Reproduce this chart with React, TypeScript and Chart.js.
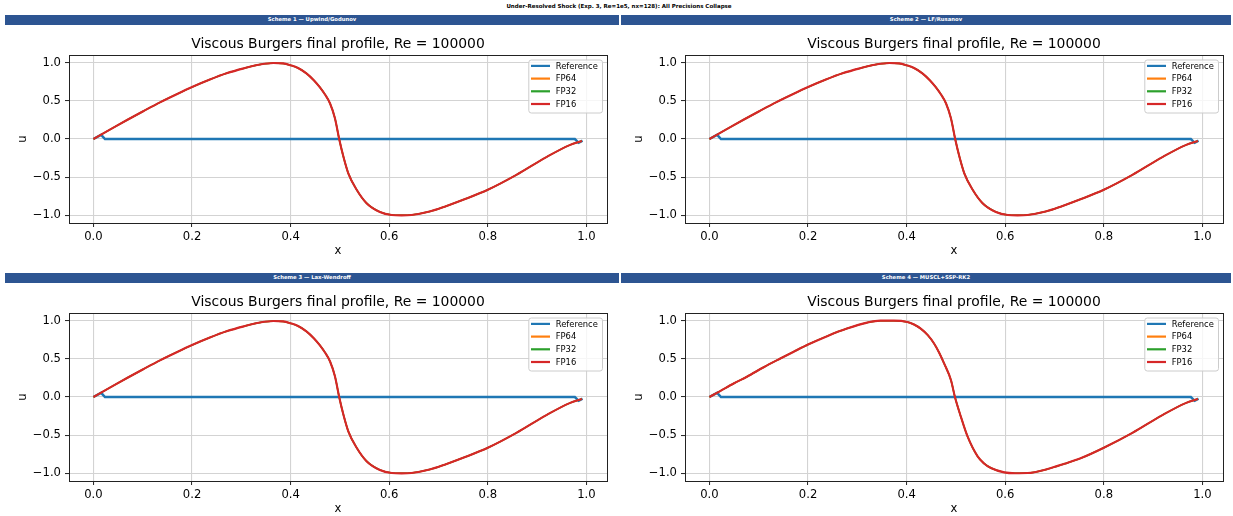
import React, { useEffect, useRef } from 'react';
import { Chart, registerables } from 'chart.js';

Chart.register(...registerables);

const FONT = '"DejaVu Sans", "Liberation Sans", sans-serif';

const SUPTITLE = 'Under-Resolved Shock (Exp. 3, Re=1e5, nx=128): All Precisions Collapse';
const PANEL_HEADERS = [
  'Scheme 1 — Upwind/Godunov',
  'Scheme 2 — LF/Rusanov',
  'Scheme 3 — Lax-Wendroff',
  'Scheme 4 — MUSCL+SSP-RK2',
];
const PANEL_TITLE = 'Viscous Burgers final profile, Re = 100000';
const SERIES_NAMES = ['Reference', 'FP64', 'FP32', 'FP16'];
const SERIES_COLORS = ['#1f77b4', '#ff7f0e', '#2ca02c', '#d62728'];
const X_TICKS = [0, 0.2, 0.4, 0.6, 0.8, 1.0];
const Y_TICKS = [-1, -0.5, 0, 0.5, 1];

// Reference profile (same in all panels)
const refX = [0, 0.0156, 0.0234, 0.9766, 0.9844, 0.9922];
const refU = [0, 0.055, 0, 0, -0.05, -0.022];

// Computed profile, schemes 1-3 (FP64 = FP32 = FP16)
const profXA = [
  0, 0.02, 0.045, 0.07, 0.1, 0.135, 0.17, 0.2, 0.235, 0.27, 0.305, 0.338, 0.365,
  0.385, 0.4, 0.415, 0.432, 0.447, 0.459, 0.47, 0.48, 0.49, 0.4985, 0.507, 0.517,
  0.534, 0.554, 0.581, 0.605, 0.625, 0.645, 0.682, 0.715, 0.75, 0.8, 0.858, 0.918,
  0.966, 0.991,
];
const profUA = [
  0, 0.073, 0.165, 0.255, 0.36, 0.48, 0.59, 0.68, 0.775, 0.86, 0.925, 0.975, 0.995,
  0.99, 0.965, 0.93, 0.86, 0.77, 0.68, 0.58, 0.465, 0.27, 0, -0.23, -0.45,
  -0.665, -0.84, -0.955, -0.995, -1.0, -0.995, -0.95, -0.88, -0.796, -0.665, -0.47, -0.24,
  -0.08, -0.026,
];

// Computed profile, scheme 4
const profXB = [
  0, 0.0217, 0.05, 0.076, 0.11, 0.1438, 0.17, 0.2, 0.24, 0.279, 0.32, 0.347, 0.374,
  0.4015, 0.415, 0.4286, 0.443, 0.4557, 0.466, 0.476, 0.49, 0.498, 0.51, 0.5236,
  0.544, 0.557, 0.571, 0.598, 0.62, 0.6456, 0.686, 0.72, 0.754, 0.8, 0.858, 0.918,
  0.966, 0.991,
];
const profUB = [
  0, 0.078, 0.18, 0.265, 0.39, 0.504, 0.59, 0.687, 0.8, 0.896, 0.974, 1.0, 1.0,
  0.983, 0.95, 0.896, 0.81, 0.7, 0.58, 0.44, 0.22, 0, -0.257, -0.517,
  -0.778, -0.87, -0.93, -0.987, -0.998, -0.996, -0.943, -0.875, -0.8, -0.665, -0.47, -0.24,
  -0.08, -0.026,
];

const PANEL_PROFILES = [
  [profXA, profUA],
  [profXA, profUA],
  [profXA, profUA],
  [profXB, profUB],
];

const CANVAS_W = 616;
const CANVAS_H = 230;

const fmt = (v: number) => {
  const s = Number(v).toFixed(1);
  return s.startsWith('-') ? '\u2212' + s.slice(1) : s;
};

const framePlugin = {
  id: 'frameTitleLegend',
  afterDraw(chart: any) {
    const { ctx, chartArea } = chart;
    const { left, right, top, bottom } = chartArea;
    ctx.save();
    // spines
    ctx.strokeStyle = '#222';
    ctx.lineWidth = 1;
    ctx.strokeRect(Math.round(left) + 0.5, Math.round(top) + 0.5, Math.round(right - left), Math.round(bottom - top));
    // title
    ctx.fillStyle = '#000';
    ctx.font = `13.9px ${FONT}`;
    ctx.textAlign = 'center';
    ctx.textBaseline = 'alphabetic';
    ctx.fillText(PANEL_TITLE, (left + right) / 2, 20);
    // legend
    const bx = right - 78.7;
    const by = top + 4.5;
    const bw = 73.7;
    const bh = 53;
    ctx.beginPath();
    (ctx as any).roundRect(bx + 0.5, by + 0.5, bw, bh, 2.5);
    ctx.fillStyle = 'rgba(255,255,255,0.8)';
    ctx.fill();
    ctx.strokeStyle = '#cccccc';
    ctx.lineWidth = 1;
    ctx.stroke();
    ctx.font = `8.4px ${FONT}`;
    ctx.textAlign = 'left';
    ctx.textBaseline = 'middle';
    SERIES_NAMES.forEach((name, i) => {
      const y = top + 10.9 + i * 12.7;
      ctx.beginPath();
      ctx.moveTo(right - 76, y);
      ctx.lineTo(right - 57, y);
      ctx.strokeStyle = SERIES_COLORS[i];
      ctx.lineWidth = 2.2;
      ctx.stroke();
      ctx.fillStyle = '#000';
      ctx.fillText(name, right - 51.3, y + 0.5);
    });
    ctx.restore();
  },
};

function Panel({ index }: { index: number }) {
  const ref = useRef<HTMLCanvasElement | null>(null);
  useEffect(() => {
    if (!ref.current) return;
    const [px, pu] = PANEL_PROFILES[index];
    const mk = (si: number, xs: number[], us: number[], smooth: boolean, w: number) => ({
      label: SERIES_NAMES[si],
      data: xs.map((x, i) => ({ x, y: us[i] })),
      borderColor: SERIES_COLORS[si],
      backgroundColor: SERIES_COLORS[si],
      borderWidth: w,
      pointRadius: 0,
      fill: false,
      tension: 0,
      cubicInterpolationMode: smooth ? 'monotone' : 'default',
    });
    const datasets = [
      mk(3, px, pu, true, 2.1),
      mk(2, px, pu, true, 1.5),
      mk(1, px, pu, true, 1.5),
      mk(0, refX, refU, false, 2.5),
    ];
    const tickFont = { family: FONT, size: 11.6 };
    const chart = new Chart(ref.current, {
      type: 'line',
      data: { datasets } as any,
      options: {
        animation: false,
        responsive: false,
        maintainAspectRatio: false,
        devicePixelRatio: 1,
        layout: { padding: { left: 0, top: 27, right: 9, bottom: 0 } },
        plugins: {
          legend: { display: false },
          tooltip: { enabled: false },
          title: { display: false },
        },
        scales: {
          x: {
            type: 'linear',
            min: -0.0496,
            max: 1.0418,
            afterBuildTicks: (s: any) => {
              s.ticks = X_TICKS.map((v) => ({ value: v }));
            },
            afterFit: (s: any) => {
              s.height = 35;
            },
            ticks: {
              font: tickFont,
              color: '#000',
              padding: 3,
              maxRotation: 0,
              autoSkip: false,
              callback: (v: any) => fmt(v),
            },
            grid: {
              color: '#d3d3d3',
              lineWidth: 1.1,
              drawTicks: true,
              tickLength: 4,
              tickColor: '#222',
              tickWidth: 1,
            },
            border: { display: true, color: '#222', width: 1 },
            title: {
              display: true,
              text: 'x',
              color: '#000',
              font: tickFont,
              padding: { top: 0, bottom: 0 },
            },
          },
          y: {
            type: 'linear',
            min: -1.1,
            max: 1.1,
            afterBuildTicks: (s: any) => {
              s.ticks = Y_TICKS.map((v) => ({ value: v }));
            },
            afterFit: (s: any) => {
              s.width = 69;
            },
            ticks: {
              font: tickFont,
              color: '#000',
              padding: 4,
              autoSkip: false,
              callback: (v: any) => fmt(v),
            },
            grid: {
              color: '#d3d3d3',
              lineWidth: 1.1,
              drawTicks: true,
              tickLength: 4,
              tickColor: '#222',
              tickWidth: 1,
            },
            border: { display: true, color: '#222', width: 1 },
            title: {
              display: true,
              text: 'u',
              color: '#000',
              font: tickFont,
              padding: { top: 16, bottom: 0 },
            },
          },
        },
      } as any,
      plugins: [framePlugin],
    });
    return () => chart.destroy();
  }, [index]);

  const col = index % 2;
  const row = Math.floor(index / 2);
  return (
    <canvas
      ref={ref}
      width={CANVAS_W}
      height={CANVAS_H}
      style={{
        position: 'absolute',
        left: col * 616,
        top: 28 + row * 258,
        width: CANVAS_W,
        height: CANVAS_H,
      }}
    />
  );
}

export default function App() {
  const bars = [
    { left: 5, top: 15.3, width: 614 },
    { left: 621, top: 15.3, width: 610 },
    { left: 5, top: 273.3, width: 614 },
    { left: 621, top: 273.3, width: 610 },
  ];
  return (
    <div
      style={{
        position: 'fixed',
        left: 0,
        top: 0,
        width: 1233,
        height: 516,
        background: '#fff',
        overflow: 'hidden',
      }}
    >
      <div
        style={{
          position: 'absolute',
          left: 0,
          top: 2,
          width: 1238,
          textAlign: 'center',
          font: `bold 5.5px ${FONT}`,
          lineHeight: '8px',
          color: '#000',
          whiteSpace: 'nowrap',
        }}
      >
        {SUPTITLE}
      </div>
      {bars.map((b, i) => (
        <div
          key={i}
          style={{
            position: 'absolute',
            left: b.left,
            top: b.top,
            width: b.width,
            height: 9.7,
            background: '#2d5592',
            color: '#fff',
            textAlign: 'center',
            font: `bold 5.3px ${FONT}`,
            lineHeight: '9.7px',
            whiteSpace: 'nowrap',
          }}
        >
          {PANEL_HEADERS[i]}
        </div>
      ))}
      {[0, 1, 2, 3].map((i) => (
        <Panel key={i} index={i} />
      ))}
    </div>
  );
}
